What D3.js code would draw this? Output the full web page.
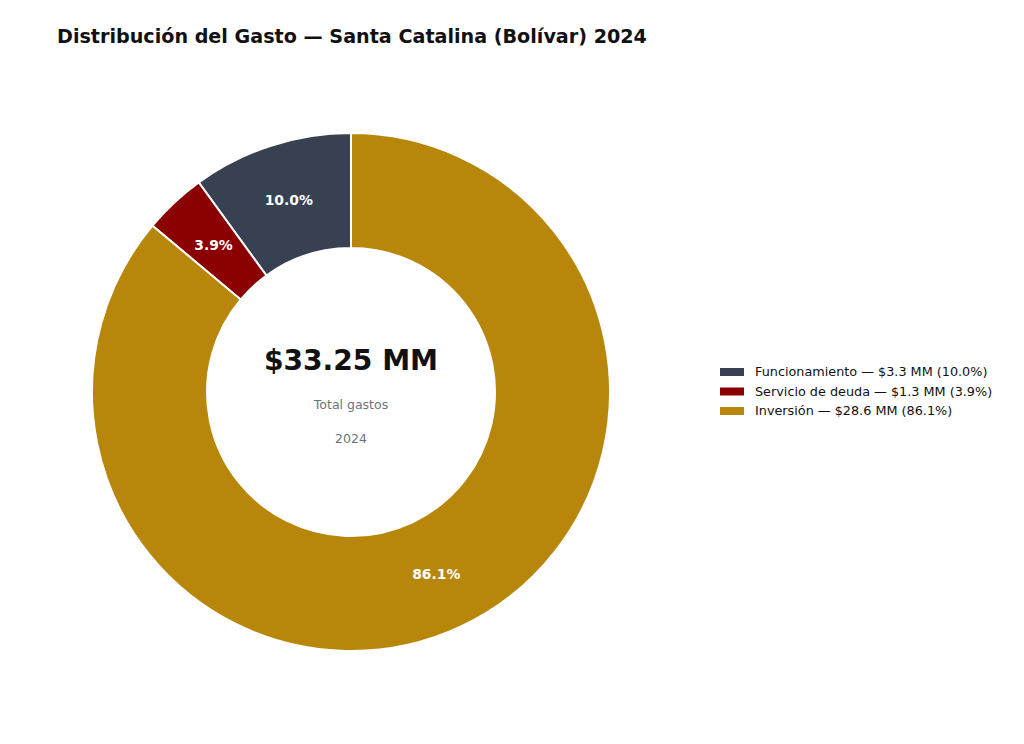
<!DOCTYPE html>
<html>
<head>
<meta charset="utf-8">
<script src="https://cdn.jsdelivr.net/npm/d3@7"></script>
<style>
  body { margin: 0; background: #fff; }
  text { font-family: "DejaVu Sans", sans-serif; }
</style>
</head>
<body>
<script>
// data
let categories = ["Funcionamiento", "Servicio de deuda", "Inversión"];
let valuesMM = [3.325, 1.297, 28.628];
let colors = ["#374151", "#8B0000", "#B8860B"];
let totalLabel = "$33.25 MM";
let year = "2024";

let total = d3.sum(valuesMM);
let data = categories.map((c, i) => ({name: c, value: valuesMM[i], color: colors[i]}));

let svg = d3.select("body").append("svg").attr("width", 1024).attr("height", 744);

svg.append("text")
    .attr("x", 57).attr("y", 43)
    .attr("font-size", 19.15).attr("font-weight", "bold").attr("fill", "#111")
    .text("Distribución del Gasto — Santa Catalina (Bolívar) 2024");

let cx = 351, cy = 392, outerR = 259, innerR = 144;

// counterclockwise from the top, like startangle=90
let pie = d3.pie().value(d => d.value).sort(null)
    .startAngle(0).endAngle(-2 * Math.PI);

let arc = d3.arc().innerRadius(innerR).outerRadius(outerR);
let labelArc = d3.arc().innerRadius((innerR + outerR) / 2).outerRadius((innerR + outerR) / 2);

let g = svg.append("g").attr("transform", "translate(" + cx + "," + cy + ")");

let slices = g.selectAll("g.slice").data(pie(data)).enter().append("g").attr("class", "slice");

slices.append("path")
    .attr("d", arc)
    .attr("fill", d => d.data.color)
    .attr("stroke", "white")
    .attr("stroke-width", 2);

slices.append("text")
    .attr("transform", d => "translate(" + labelArc.centroid(d) + ")")
    .attr("text-anchor", "middle")
    .attr("dy", "0.35em")
    .attr("font-size", 13.9).attr("font-weight", "bold").attr("fill", "white")
    .text(d => (d.data.value / total * 100).toFixed(1) + "%");

// center text
g.append("text").attr("y", -32).attr("text-anchor", "middle").attr("dy", "0.35em")
    .attr("font-size", 28.1).attr("font-weight", "bold").attr("fill", "#111")
    .text(totalLabel);
g.append("text").attr("y", 13).attr("text-anchor", "middle").attr("dy", "0.35em")
    .attr("font-size", 12.5).attr("fill", "#6B7280")
    .text("Total gastos");
g.append("text").attr("y", 47).attr("text-anchor", "middle").attr("dy", "0.35em")
    .attr("font-size", 12.5).attr("fill", "#6B7280")
    .text(year);

// legend
let legend = svg.append("g").attr("transform", "translate(720, 372)");
let rows = legend.selectAll("g").data(data).enter().append("g")
    .attr("transform", (d, i) => "translate(0," + (i * 19.5) + ")");
rows.append("rect").attr("x", 0).attr("y", -4).attr("width", 24).attr("height", 8)
    .attr("fill", d => d.color);
rows.append("text").attr("x", 35).attr("dy", "0.35em")
    .attr("font-size", 12.8).attr("fill", "#111")
    .text(d => d.name + " — $" + d.value.toFixed(1) + " MM (" + (d.value / total * 100).toFixed(1) + "%)");
</script>
</body>
</html>
